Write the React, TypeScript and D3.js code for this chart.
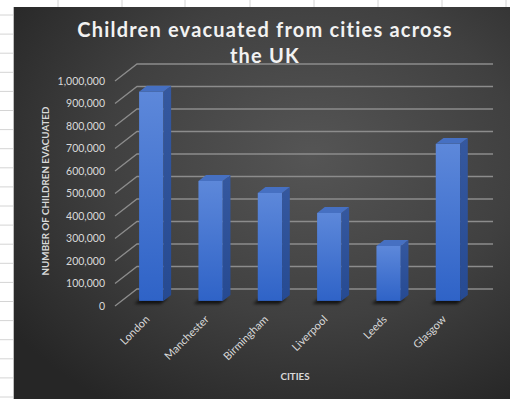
import React from "react";
import * as d3 from "d3";

const cities = ["London", "Manchester", "Birmingham", "Liverpool", "Leeds", "Glasgow"];
const evacuated = [930000, 533000, 480000, 391000, 244000, 698000];
const yTicks = [0, 100000, 200000, 300000, 400000, 500000, 600000, 700000, 800000, 900000, 1000000];
const titleLines = ["Children evacuated from cities across", "the UK"];
const yAxisTitle = "NUMBER OF CHILDREN EVACUATED";
const xAxisTitle = "CITIES";

const W = 510;
const H = 399;
const DX = 22; // floor depth
const DY = -17;
const F0 = 0.3; // bar front depth fraction
const F1 = 0.65; // bar back depth fraction

export default function App() {
  const x = d3.scaleBand<string>().domain(cities).range([115, 471]).padding(0);
  const y = d3.scaleLinear().domain([0, 1000000]).range([306, 81]);
  const fmt = d3.format(",");
  const barW = x.step() * 0.41;

  const colLines = [58, 122, 185, 250, 314, 378, 442, 506];
  const rowLines = d3.range(0, 21).map((i) => 15 + i * 19.1);

  const f0x = F0 * DX, f0y = F0 * DY;
  const f1x = F1 * DX, f1y = F1 * DY;

  return (
    <svg width={W} height={H} style={{ position: "absolute", left: 0, top: 0, background: "#fff" }}>
      <defs>
        <radialGradient id="bg" cx="0.6" cy="0.38" r="0.75">
          <stop offset="0" stopColor="#555555" />
          <stop offset="0.55" stopColor="#404040" />
          <stop offset="1" stopColor="#262626" />
        </radialGradient>
        <linearGradient id="front" x1="0" y1="0" x2="0" y2="1">
          <stop offset="0" stopColor="#5d88da" />
          <stop offset="1" stopColor="#2f63c7" />
        </linearGradient>
        <linearGradient id="side" x1="0" y1="0" x2="0" y2="1">
          <stop offset="0" stopColor="#35589f" />
          <stop offset="1" stopColor="#264a92" />
        </linearGradient>
        <filter id="blur" x="-50%" y="-50%" width="200%" height="200%">
          <feGaussianBlur stdDeviation="1.6" />
        </filter>
      </defs>
      {colLines.map((cx) => (
        <line key={"c" + cx} x1={cx} x2={cx} y1={0} y2={H} stroke="#d4d4d4" strokeWidth={1} />
      ))}
      {rowLines.map((ry) => (
        <line key={"r" + ry} x1={0} x2={W} y1={ry} y2={ry} stroke="#d4d4d4" strokeWidth={1} />
      ))}
      <rect x={14} y={7} width={W - 14} height={H - 7} fill="url(#bg)" />
      <line x1={13.5} x2={13.5} y1={7} y2={H} stroke="#bfbfbf" strokeWidth={1} />

      {/* gridlines */}
      {yTicks.map((t) => {
        const yy = y(t);
        return (
          <g key={t}>
            <path
              d={`M115,${yy} L${115 + DX},${yy + DY} L493,${yy + DY}`}
              fill="none"
              stroke="#8c8c8c"
              strokeWidth={1.3}
            />
            <text
              x={105}
              y={yy}
              dy="0.35em"
              textAnchor="end"
              fontFamily="Lato, 'Open Sans', sans-serif"
              fontSize={10.5}
              fill="#d9d9d9"
            >
              {fmt(t)}
            </text>
          </g>
        );
      })}

      {/* bars */}
      {cities.map((c, i) => {
        const cx = (x(c) as number) + x.bandwidth() / 2;
        const l = cx - barW / 2 + f0x;
        const r = cx + barW / 2 + f0x;
        const yb = y(0) + f0y;
        const yt = y(evacuated[i]) + f0y;
        const ddx = f1x - f0x;
        const ddy = f1y - f0y;
        return (
          <g key={c}>
            <path
              d={`M${l - 5},${yb + 3} L${r - 3},${yb + 3} L${r + ddx - 3},${yb + ddy + 3} L${l + ddx - 5},${yb + ddy + 3} Z`}
              fill="#000"
              opacity={0.7}
              filter="url(#blur)"
            />
            <rect x={l} y={yt} width={r - l} height={yb - yt} fill="url(#front)" />
            <path
              d={`M${r},${yt} L${r + ddx},${yt + ddy} L${r + ddx},${yb + ddy} L${r},${yb} Z`}
              fill="url(#side)"
            />
            <path
              d={`M${l},${yt} L${r},${yt} L${r + ddx},${yt + ddy} L${l + ddx},${yt + ddy} Z`}
              fill="#4670c2"
            />
          </g>
        );
      })}

      {/* x labels */}
      {cities.map((c) => {
        const cx = (x(c) as number) + x.bandwidth() / 2 + f0x;
        return (
          <text
            key={"l" + c}
            transform={`translate(${cx - 1},${320}) rotate(-45)`}
            textAnchor="end"
            fontFamily="Lato, 'Open Sans', sans-serif"
            fontSize={11}
            fill="#d9d9d9"
          >
            {c}
          </text>
        );
      })}

      {/* titles */}
      {titleLines.map((t, i) => (
        <text
          key={t}
          x={265}
          y={37 + i * 26}
          textAnchor="middle"
          fontFamily="Lato, 'Open Sans', sans-serif"
          fontWeight="bold"
          fontSize={20}
          letterSpacing={1.2}
          fill="#f2f2f2"
        >
          {t}
        </text>
      ))}
      <text
        transform={`translate(49,191) rotate(-90)`}
        textAnchor="middle"
        fontFamily="Lato, 'Open Sans', sans-serif"
        fontWeight="bold"
        fontSize={9.8}
        fill="#d9d9d9"
      >
        {yAxisTitle}
      </text>
      <text
        x={295}
        y={380}
        textAnchor="middle"
        fontFamily="Lato, 'Open Sans', sans-serif"
        fontWeight="bold"
        fontSize={9.8}
        fill="#d9d9d9"
      >
        {xAxisTitle}
      </text>
    </svg>
  );
}
